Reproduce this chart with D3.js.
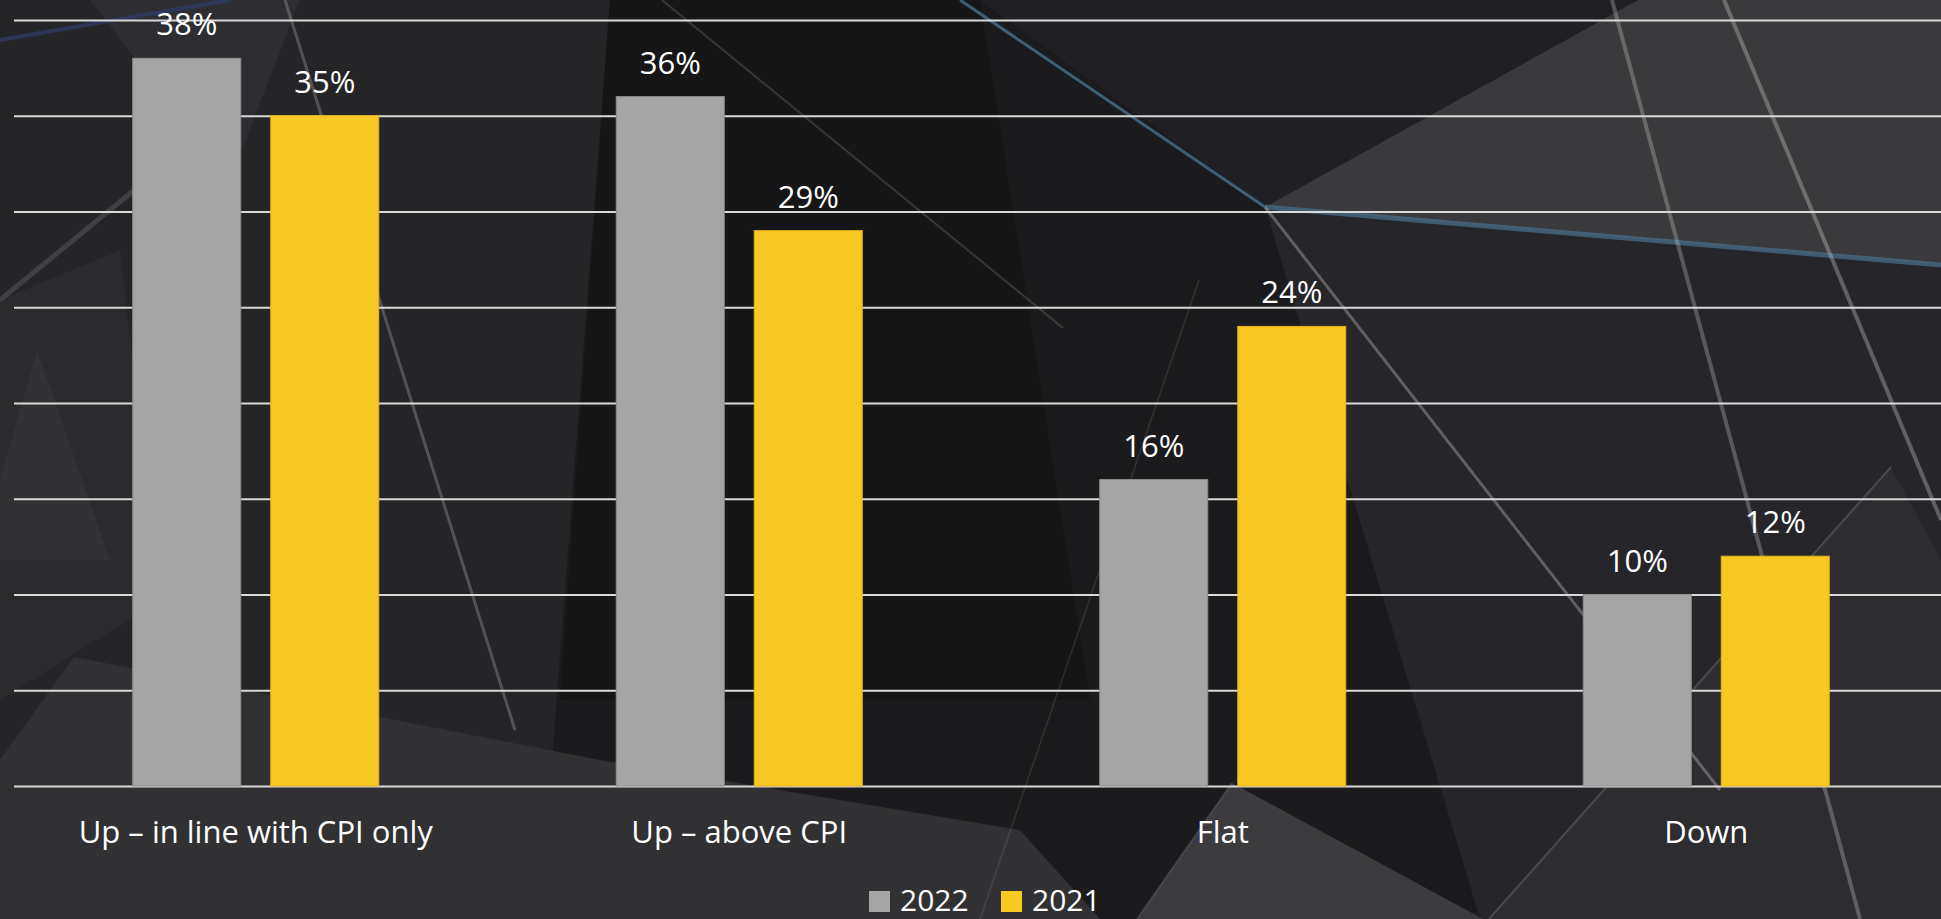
<!DOCTYPE html>
<html>
<head>
<meta charset="utf-8">
<script src="https://cdn.jsdelivr.net/npm/d3@7"></script>
<style>
  html, body { margin: 0; padding: 0; background: #1b1b1d; overflow: hidden; }
  svg { display: block; }
  text { font-family: "Open Sans", "Noto Sans", sans-serif; fill: #ffffff; }
</style>
</head>
<body>
<svg id="chart" width="1941" height="919"></svg>
<script>
// ---------- data ----------
const categories = ["Up \u2013 in line with CPI only", "Up \u2013 above CPI", "Flat", "Down"];
const seriesNames = ["2022", "2021"];
const values2022 = [38, 36, 16, 10];
const values2021 = [35, 29, 24, 12];
const yTicks = [0, 5, 10, 15, 20, 25, 30, 35, 40];
const seriesColors = ["#A5A5A5", "#F8C823"];
const seriesStroke = ["#8f8f8f", "#e2b31c"];

const W = 1941, H = 919;
const svg = d3.select("#chart");

// ---------- background decoration ----------
const bg = svg.append("g");
bg.append("rect").attr("width", W).attr("height", H).attr("fill", "#1b1b1d");
const polys = [
  {p: [[0,0],[610,0],[540,919],[0,919]], f: "#252528"},
  {p: [[610,0],[980,0],[1090,700],[560,700]], f: "#161617"},
  {p: [[980,0],[1638,0],[1265,207]], f: "#202024"},
  {p: [[1265,207],[1638,0],[1941,0],[1941,265]], f: "#3a3a3c"},
  {p: [[1265,207],[1941,265],[1941,919],[1480,919]], f: "#25252a"},
  {p: [[74,657],[600,760],[1020,830],[1100,919],[0,919],[0,760]], f: "#313134"},
  {p: [[0,300],[120,250],[160,600],[0,700]], f: "#2b2b2e"},
  {p: [[1137,919],[1232,783],[1483,919]], f: "#3c3c3f"},
  {p: [[1891,467],[1489,919],[1941,919],[1941,560]], f: "#2d2d30"},
  {p: [[37,350],[0,480],[0,560],[110,560]], f: "#323235"},
  {p: [[90,0],[300,0],[230,180]], f: "#2e2e32"}
];
bg.selectAll("polygon").data(polys).join("polygon")
  .attr("points", d => d.p.map(q => q.join(",")).join(" "))
  .attr("fill", d => d.f);

const streaks = [
  {a: [960,0], b: [1265,207], c: "#46708f", w: 3, o: 0.8},
  {a: [1265,207], b: [1941,265], c: "#4a6d88", w: 5, o: 0.75},
  {a: [0,40], b: [230,0], c: "#2d3c6a", w: 4, o: 0.7},
  {a: [1612,0], b: [1860,919], c: "#cfcfcf", w: 4, o: 0.3},
  {a: [1724,0], b: [1941,520], c: "#cfcfcf", w: 4, o: 0.35},
  {a: [1265,207], b: [1720,790], c: "#cfcfcf", w: 3, o: 0.35},
  {a: [285,0], b: [515,730], c: "#bdbdbd", w: 3, o: 0.3},
  {a: [0,300], b: [204,133], c: "#bdbdbd", w: 5, o: 0.18},
  {a: [662,0], b: [1063,328], c: "#bdbdbd", w: 2, o: 0.2},
  {a: [1199,280], b: [980,919], c: "#bdbdbd", w: 1.5, o: 0.15},
  {a: [1891,467], b: [1489,919], c: "#6a6a6d", w: 2, o: 0.5},
  {a: [1232,783], b: [1137,919], c: "#6a6a6d", w: 2, o: 0.4}
];
bg.selectAll("line").data(streaks).join("line")
  .attr("x1", d => d.a[0]).attr("y1", d => d.a[1])
  .attr("x2", d => d.b[0]).attr("y2", d => d.b[1])
  .attr("stroke", d => d.c).attr("stroke-width", d => d.w)
  .attr("stroke-opacity", d => d.o);

// ---------- scales ----------
const plotLeft = 14, plotRight = 1948, plotTop = 20, plotBottom = 786;
const x0 = d3.scaleBand().domain(categories).range([plotLeft, plotRight]).padding(0);
const x1 = d3.scaleBand().domain(seriesNames).range([-123, 123]).paddingInner(0.2174).paddingOuter(0);
const y = d3.scaleLinear().domain([0, 40]).range([plotBottom, plotTop]);

// ---------- gridlines ----------
const grid = svg.append("g").attr("transform", `translate(${plotLeft},0)`)
  .call(d3.axisLeft(y).tickValues(yTicks).tickSize(-(W - plotLeft)).tickFormat(""));
grid.select(".domain").remove();
grid.selectAll(".tick line").attr("stroke", "#d9d9d9").attr("stroke-width", 2);

// ---------- bars ----------
const rows = categories.map((c, i) => ({cat: c, vals: [values2022[i], values2021[i]]}));
const groups = svg.append("g").selectAll("g").data(rows).join("g")
  .attr("transform", d => `translate(${x0(d.cat) + x0.bandwidth() / 2},0)`);

groups.selectAll("rect").data(d => d.vals.map((v, j) => ({s: seriesNames[j], v, j})))
  .join("rect")
  .attr("x", d => x1(d.s))
  .attr("y", d => y(d.v))
  .attr("width", x1.bandwidth())
  .attr("height", d => y(0) - y(d.v))
  .attr("fill", d => seriesColors[d.j])
  .attr("stroke", d => seriesStroke[d.j])
  .attr("stroke-width", 1);

groups.selectAll("text.val").data(d => d.vals.map((v, j) => ({s: seriesNames[j], v, j})))
  .join("text").attr("class", "val")
  .attr("x", d => x1(d.s) + x1.bandwidth() / 2)
  .attr("y", d => y(d.v) - 23)
  .attr("text-anchor", "middle")
  .attr("font-size", 31)
  .text(d => d.v + "%");

// ---------- x axis labels ----------
const xAxis = svg.append("g").attr("transform", `translate(0,${plotBottom})`)
  .call(d3.axisBottom(x0).tickSize(0).tickPadding(0));
xAxis.select(".domain").remove();
xAxis.selectAll(".tick text")
  .attr("y", 57).attr("dy", 0)
  .attr("font-size", 31)
  .style("font-family", "'Open Sans', 'Noto Sans', sans-serif")
  .attr("fill", "#ffffff");

// ---------- legend ----------
const legendX = [869, 1001];
const legend = svg.append("g").selectAll("g").data(seriesNames).join("g")
  .attr("transform", (d, i) => `translate(${legendX[i]},891)`);
legend.append("rect").attr("width", 21).attr("height", 21)
  .attr("fill", (d, i) => seriesColors[i]);
legend.append("text").attr("x", 31).attr("y", 20).attr("font-size", 30).text(d => d);
</script>
</body>
</html>
